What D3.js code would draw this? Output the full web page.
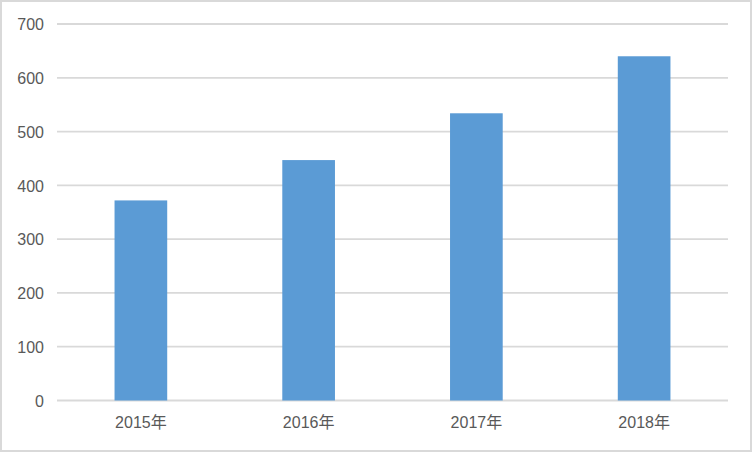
<!DOCTYPE html>
<html>
<head>
<meta charset="utf-8">
<script src="https://cdn.jsdelivr.net/npm/d3@7"></script>
<style>
  html, body { margin: 0; padding: 0; background: #fff; }
  svg { display: block; }
  text { font-family: "Liberation Sans", "Noto Sans CJK SC", sans-serif; fill: #595959; }
</style>
</head>
<body>
<script>
const categories = ["2015年", "2016年", "2017年", "2018年"];
const values = [372, 447, 534, 640];
const yTicks = [0, 100, 200, 300, 400, 500, 600, 700];

const W = 752, H = 452;
const svg = d3.select("body").append("svg").attr("width", W).attr("height", H);

svg.append("rect").attr("x", 1).attr("y", 1).attr("width", W - 2).attr("height", H - 2)
  .attr("fill", "#fff").attr("stroke", "#d9d9d9").attr("stroke-width", 2);

const x = d3.scaleBand().domain(categories).range([57, 728])
  .paddingInner(0.686).paddingOuter(0.343);
const y = d3.scaleLinear().domain([0, 700]).range([400.5, 24]);

// gridlines
svg.append("g").selectAll("line").data(yTicks).join("line")
  .attr("x1", 57).attr("x2", 728)
  .attr("y1", d => y(d)).attr("y2", d => y(d))
  .attr("stroke", "#d9d9d9").attr("stroke-width", 1.8);

// bars
svg.append("g").selectAll("rect").data(values).join("rect")
  .attr("x", (d, i) => x(categories[i]))
  .attr("width", x.bandwidth())
  .attr("y", d => y(d))
  .attr("height", d => y(0) - y(d))
  .attr("fill", "#5b9bd5");

// y labels
const yAxis = d3.axisLeft(y).tickValues(yTicks).tickSize(0).tickPadding(0).tickFormat(d3.format("d"));
const ya = svg.append("g").attr("transform", "translate(44,0)").call(yAxis);
ya.select(".domain").remove();
ya.selectAll("text").attr("font-size", 16).attr("font-family", null).attr("fill", "#595959").attr("dy", "0.36em");

// x labels
const xAxis = d3.axisBottom(x).tickSize(0).tickPadding(0);
const xa = svg.append("g").attr("transform", "translate(0,417)").call(xAxis);
xa.select(".domain").remove();
xa.selectAll("text").attr("font-size", 16).attr("font-family", null).attr("fill", "#595959").attr("dy", "0.71em");
</script>
</body>
</html>
